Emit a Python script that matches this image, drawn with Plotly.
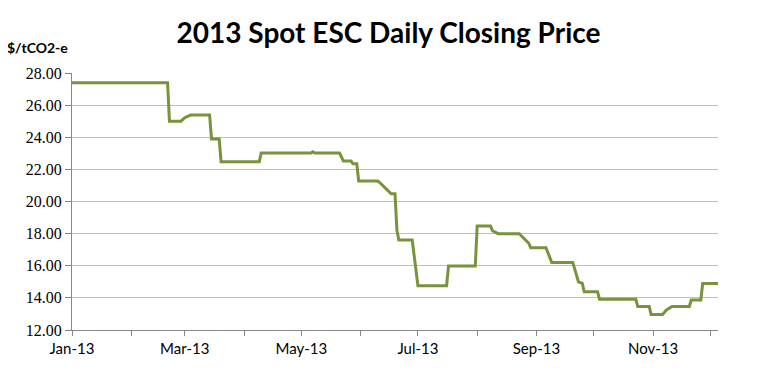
import plotly.graph_objects as go

# Key step points of the daily closing price series
dates = [
    "2013-01-01", "2013-02-20", "2013-02-21", "2013-02-27", "2013-03-01", "2013-03-04",
    "2013-03-14", "2013-03-15", "2013-03-19", "2013-03-20", "2013-04-09", "2013-04-10",
    "2013-05-06", "2013-05-07", "2013-05-08", "2013-05-21", "2013-05-23", "2013-05-27",
    "2013-05-28", "2013-05-30", "2013-05-31", "2013-06-10", "2013-06-12", "2013-06-14",
    "2013-06-17", "2013-06-19", "2013-06-20", "2013-06-21", "2013-06-28", "2013-07-01",
    "2013-07-16", "2013-07-17", "2013-07-31", "2013-08-01", "2013-08-08", "2013-08-09",
    "2013-08-12", "2013-08-23", "2013-08-26", "2013-08-28", "2013-08-29", "2013-09-06",
    "2013-09-09", "2013-09-20", "2013-09-23", "2013-09-25", "2013-09-26", "2013-10-03",
    "2013-10-04", "2013-10-23", "2013-10-24", "2013-10-30", "2013-10-31", "2013-11-06",
    "2013-11-08", "2013-11-11", "2013-11-20", "2013-11-21", "2013-11-26", "2013-11-27",
    "2013-12-05",
]
prices = [
    27.40, 27.40, 25.00, 25.00, 25.22, 25.38,
    25.38, 23.89, 23.89, 22.48, 22.48, 23.02,
    23.02, 23.10, 23.02, 23.02, 22.52, 22.52,
    22.35, 22.35, 21.28, 21.28, 21.07, 20.82,
    20.48, 20.48, 18.20, 17.60, 17.60, 14.76,
    14.76, 15.98, 15.98, 18.47, 18.47, 18.18,
    18.00, 18.00, 17.65, 17.40, 17.12, 17.12,
    16.21, 16.21, 15.00, 14.90, 14.38, 14.38,
    13.91, 13.91, 13.47, 13.47, 12.97, 12.97,
    13.25, 13.47, 13.47, 13.87, 13.87, 14.90,
    14.90,
]

month_ticks = [
    "2013-01-01", "2013-02-01", "2013-03-01", "2013-04-01", "2013-05-01", "2013-06-01",
    "2013-07-01", "2013-08-01", "2013-09-01", "2013-10-01", "2013-11-01", "2013-12-01",
]
month_labels = ["Jan-13", "", "Mar-13", "", "May-13", "", "Jul-13", "", "Sep-13", "", "Nov-13", ""]

SANS = "Lato, Open Sans, sans-serif"

fig = go.Figure()
fig.add_trace(go.Scatter(
    x=dates, y=prices, mode="lines",
    line=dict(color="#77933C", width=3),
    showlegend=False,
))

# page body has an 8px default margin; figure sized so it fits the 769x375 window
fig.update_layout(
    width=761, height=367,
    margin=dict(l=64, r=51, t=65, b=45),
    paper_bgcolor="white", plot_bgcolor="white",
    title=dict(
        text="<b>2013 Spot ESC Daily Closing Price</b>",
        x=0.5, xanchor="center", y=1 - 25/367, yanchor="middle",
        font=dict(family=SANS, size=28, color="black"),
    ),
    xaxis=dict(
        type="date",
        range=["2013-01-01", "2013-12-05"],
        tickmode="array", tickvals=month_ticks, ticktext=month_labels,
        ticks="outside", ticklen=5, tickcolor="#868686",
        showline=True, linecolor="#868686", linewidth=1,
        showgrid=False, zeroline=False,
        tickfont=dict(family=SANS, size=15, color="black"),
    ),
    yaxis=dict(
        range=[12, 28], dtick=2, tick0=12, tickformat=".2f",
        ticks="outside", ticklen=6, tickcolor="#868686",
        showline=True, linecolor="#868686", linewidth=1,
        showgrid=True, gridcolor="#BFBFBF", gridwidth=1, zeroline=False,
        tickfont=dict(family="Liberation Serif, DejaVu Serif, serif", size=16, color="black"),
    ),
    annotations=[dict(
        text="<b>$/tCO2-e</b>", xref="paper", yref="paper",
        x=-67/646, y=1 + 25/257, xanchor="left", yanchor="middle", showarrow=False,
        font=dict(family=SANS, size=14, color="black"),
    )],
)

fig.write_html("out.html")
